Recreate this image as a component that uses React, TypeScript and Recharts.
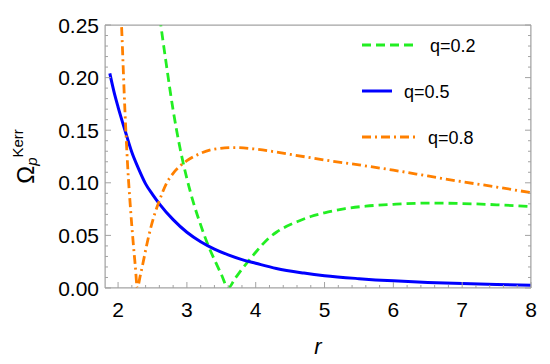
import React from 'react';
import { LineChart, Line, XAxis, YAxis, Legend, ReferenceArea } from 'recharts';

// tick labels
const xTicks = [2, 3, 4, 5, 6, 7, 8];
const yTicks = [0, 0.05, 0.1, 0.15, 0.2, 0.25];
const xDomain: [number, number] = [1.81, 8];
const yDomain: [number, number] = [yTicks[0], yTicks[yTicks.length - 1]];

// q = 0.2 (green, dashed)
const rQ02 = [2.5, 2.6, 2.7, 2.8, 2.9, 3.0, 3.1, 3.2, 3.3, 3.4, 3.5, 3.6, 3.7, 3.8, 3.9, 4.0, 4.2, 4.3, 4.4, 4.6, 4.8, 5.0, 5.3, 5.6, 6.0, 6.5, 7.0, 7.5, 8.0];
const omegaQ02 = [0.31, 0.26, 0.213, 0.169, 0.133, 0.104, 0.08, 0.06, 0.042, 0.027, 0.013, 0.0, 0.009, 0.018, 0.026, 0.034, 0.048, 0.053, 0.057, 0.063, 0.068, 0.0715, 0.0755, 0.0778, 0.0795, 0.0807, 0.0803, 0.0791, 0.0773];

// q = 0.5 (blue, solid)
const rQ05 = [1.88, 1.95, 2.0, 2.1, 2.2, 2.3, 2.4, 2.5, 2.6, 2.8, 3.0, 3.2, 3.4, 3.6, 3.8, 4.0, 4.3, 4.7, 5.0, 5.5, 6.0, 6.5, 7.0, 7.5, 8.0];
const omegaQ05 = [0.204, 0.184, 0.172, 0.15, 0.129, 0.113, 0.099, 0.089, 0.08, 0.065, 0.053, 0.044, 0.037, 0.0315, 0.027, 0.0235, 0.0185, 0.0142, 0.0117, 0.0089, 0.0068, 0.0053, 0.0042, 0.0034, 0.0027];

// q = 0.8 (orange, dot-dashed)
const rQ08 = [2.0, 2.05, 2.1, 2.14, 2.18, 2.22, 2.25, 2.28, 2.32, 2.36, 2.41, 2.47, 2.53, 2.6, 2.7, 2.8, 2.9, 3.0, 3.2, 3.4, 3.7, 4.0, 4.5, 5.0, 5.5, 6.0, 6.5, 7.0, 7.5, 8.0];
const omegaQ08 = [0.32, 0.25, 0.168, 0.115, 0.076, 0.043, 0.021, 0.0, 0.011, 0.023, 0.039, 0.056, 0.07, 0.083, 0.099, 0.109, 0.116, 0.121, 0.128, 0.132, 0.1335, 0.132, 0.127, 0.1217, 0.117, 0.112, 0.1065, 0.101, 0.096, 0.0906];

const FONT = '"Liberation Sans", Arial, sans-serif';
const FRAME = '#a3a3a3';

const series = [
  { name: 'q=0.2', r: rQ02, v: omegaQ02, color: '#22ee22', dash: '9 5', width: 2.8, legendLen: 56 },
  { name: 'q=0.5', r: rQ05, v: omegaQ05, color: '#0000ff', dash: undefined, width: 3, legendLen: 30 },
  { name: 'q=0.8', r: rQ08, v: omegaQ08, color: '#ff8000', dash: '9 4 2 4', width: 2.8, legendLen: 54 },
];

// minor tick positions (every 0.2 in r, every 0.01 in Omega)
const xMinor = Array.from({ length: 31 }, (_, i) => +(xTicks[0] + i * 0.2).toFixed(1));
const yMinor = Array.from({ length: 26 }, (_, i) => +(i * 0.01).toFixed(2));

const isMajorX = (v: number) => xTicks.some((t) => Math.abs(t - v) < 1e-6);
const isMajorY = (v: number) => yTicks.some((t) => Math.abs(t - v) < 1e-6);

const makeXTick = (side: 'bottom' | 'top') => (props: any) => {
  const { x, y, payload } = props;
  const major = isMajorX(payload.value);
  const len = major ? 6 : 3;
  const dir = side === 'bottom' ? -1 : 1;
  return (
    <g>
      <line x1={x} x2={x} y1={y} y2={y + dir * len} stroke={FRAME} strokeWidth={1} />
      {side === 'bottom' && major && (
        <text x={x} y={y + 29} textAnchor="middle" fontSize={21} fontFamily={FONT} fill="#000">
          {payload.value}
        </text>
      )}
    </g>
  );
};

const makeYTick = (side: 'left' | 'right') => (props: any) => {
  const { x, y, payload } = props;
  const major = isMajorY(payload.value);
  const len = major ? 6 : 3;
  const dir = side === 'left' ? 1 : -1;
  return (
    <g>
      <line x1={x} x2={x + dir * len} y1={y} y2={y} stroke={FRAME} strokeWidth={1} />
      {side === 'left' && major && (
        <text x={x - 6} y={y + 7.5} textAnchor="end" fontSize={21} fontFamily={FONT} fill="#000">
          {payload.value.toFixed(2)}
        </text>
      )}
    </g>
  );
};

const XLabel = (props: any) => {
  const vb = props.viewBox;
  return (
    <text x={vb.x + vb.width / 2} y={vb.y + 66} textAnchor="middle" fontSize={22} fontStyle="italic" fontFamily={FONT}>
      r
    </text>
  );
};

const YLabel = (props: any) => {
  const vb = props.viewBox;
  const cy = vb.y + vb.height / 2;
  return (
    <text transform={`translate(34, ${cy}) rotate(-90)`} textAnchor="middle" fontSize={24} fontFamily={FONT}>
      Ω
      <tspan fontSize={15} fontStyle="italic" dy={3}>p</tspan>
      <tspan fontSize={15} dy={-14}>Kerr</tspan>
    </text>
  );
};

const LegendBox = () => (
  <svg width={190} height={130} style={{ overflow: 'visible' }}>
    {series.map((s, i) => {
      const cy = 17 + i * 46;
      return (
        <g key={s.name}>
          <line x1={7} x2={7 + s.legendLen} y1={cy} y2={cy} stroke={s.color} strokeWidth={s.width} strokeDasharray={s.dash} />
          <text x={s.legendLen + 19} y={cy + 6.5} fontSize={18} fontFamily={FONT} fill="#000">
            {s.name}
          </text>
        </g>
      );
    })}
  </svg>
);

export default function App() {
  return (
    <div style={{ position: 'absolute', left: 0, top: 0, background: '#fff' }}>
      <LineChart width={550} height={364} margin={{ top: 25, right: 19, bottom: 0, left: 0 }}>
        <XAxis
          xAxisId="b"
          dataKey="r"
          type="number"
          domain={xDomain}
          allowDataOverflow
          ticks={xMinor}
          interval={0}
          height={76}
          stroke={FRAME}
          tickSize={0}
          tickMargin={0}
          tickLine={false}
          tick={makeXTick('bottom')}
          label={XLabel}
        />
        <XAxis
          xAxisId="t"
          orientation="top"
          mirror
          type="number"
          domain={xDomain}
          allowDataOverflow
          ticks={xMinor}
          interval={0}
          stroke={FRAME}
          tickSize={0}
          tickMargin={0}
          tickLine={false}
          tick={makeXTick('top')}
        />
        <YAxis
          yAxisId="l"
          type="number"
          domain={yDomain}
          allowDataOverflow
          ticks={yMinor}
          interval={0}
          width={105}
          stroke={FRAME}
          tickSize={0}
          tickMargin={0}
          tickLine={false}
          tick={makeYTick('left')}
          label={YLabel}
        />
        <YAxis
          yAxisId="rt"
          orientation="right"
          mirror
          type="number"
          domain={yDomain}
          allowDataOverflow
          ticks={yMinor}
          interval={0}
          stroke={FRAME}
          tickSize={0}
          tickMargin={0}
          tickLine={false}
          tick={makeYTick('right')}
        />
        <ReferenceArea
          xAxisId="b"
          yAxisId="l"
          x1={xDomain[0]}
          x2={xDomain[1]}
          y1={yDomain[0]}
          y2={yDomain[1]}
          fill="none"
          fillOpacity={0}
          stroke={FRAME}
          strokeWidth={1}
          ifOverflow="hidden"
        />
        {series.map((s) => (
          <Line
            key={s.name}
            xAxisId="b"
            yAxisId="l"
            data={s.r.map((r, i) => ({ r, v: s.v[i] }))}
            dataKey="v"
            name={s.name}
            type="monotone"
            stroke={s.color}
            strokeWidth={s.width}
            strokeDasharray={s.dash}
            dot={false}
            activeDot={false}
            isAnimationActive={false}
          />
        ))}
        <Legend
          layout="vertical"
          align="center"
          verticalAlign="middle"
          wrapperStyle={{ left: 355, top: 28, width: 190, height: 130 }}
          content={LegendBox}
        />
      </LineChart>
    </div>
  );
}
